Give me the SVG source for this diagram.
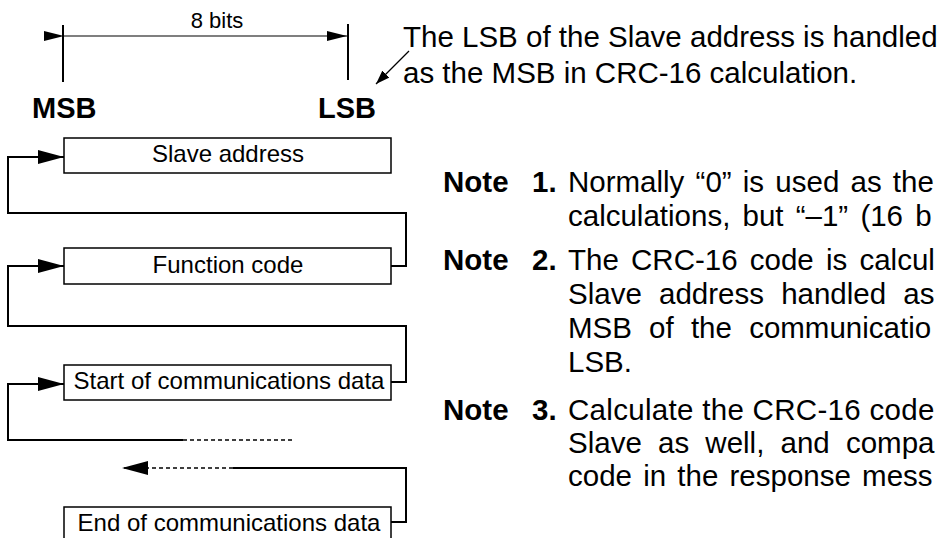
<svg xmlns="http://www.w3.org/2000/svg" width="940" height="538" viewBox="0 0 940 538">
<style>
.t{font-family:"Liberation Sans",Arial,sans-serif;fill:#000}
.box{fill:#fff;stroke:#000;stroke-width:1.5}
.ln{fill:none;stroke:#000;stroke-width:2}
.dash{fill:none;stroke:#000;stroke-width:1.5;stroke-dasharray:4 3}
.bt{font-size:24px;text-anchor:middle}
.nt{font-size:29.5px}
.b{font-weight:bold}
</style>
<defs>
<marker id="ah" viewBox="0 0 26 14" refX="26" refY="7" markerWidth="26" markerHeight="14" markerUnits="userSpaceOnUse" orient="auto">
<path d="M0,0 L26,7 L0,14 Z" fill="#000"/>
</marker>
<marker id="dh" viewBox="0 0 20 10" refX="20" refY="5" markerWidth="20" markerHeight="10" markerUnits="userSpaceOnUse" orient="auto">
<path d="M0,0 L20,5 L0,10 Z" fill="#000"/>
</marker>
<marker id="sh" viewBox="0 0 14 10" refX="14" refY="5" markerWidth="14" markerHeight="10" markerUnits="userSpaceOnUse" orient="auto">
<path d="M0,0 L14,5 L0,10 Z" fill="#000"/>
</marker>
</defs>

<g id="dimension">
<line x1="63" y1="25" x2="63" y2="82" class="ln" stroke-width="1.5"/>
<line x1="348" y1="24" x2="348" y2="80" class="ln" stroke-width="1.5"/>
<line x1="64" y1="36" x2="347" y2="36" stroke="#000" stroke-width="1.2" marker-start="url(#dh)" marker-end="url(#dh)" style="fill:none"/>
<text x="217" y="28" class="t" font-size="22" text-anchor="middle">8 bits</text>
<text x="32" y="118" class="t b" font-size="29">MSB</text>
<text x="318" y="118" class="t b" font-size="29">LSB</text>
</g>

<g id="lsb-note">
<line x1="409" y1="51" x2="376" y2="84" stroke="#000" stroke-width="1.2" marker-end="url(#sh)"/>
<text x="403" y="47" class="t nt">The LSB of the Slave address is handled</text>
<text x="403" y="83" class="t nt">as the MSB in CRC-16 calculation.</text>
</g>

<g id="slave-address">
<rect x="64" y="138" width="327" height="35" class="box"/>
<text x="228" y="162" class="t bt">Slave address</text>
</g>
<g id="function-code">
<rect x="64" y="248" width="327" height="36" class="box"/>
<text x="228" y="273" class="t bt">Function code</text>
</g>
<g id="start-data">
<rect x="64" y="365" width="327" height="35" class="box"/>
<text x="229" y="389" class="t bt">Start of communications data</text>
</g>
<g id="end-data">
<rect x="64" y="507" width="327" height="35" class="box"/>
<text x="229" y="531" class="t bt">End of communications data</text>
</g>

<g id="connectors">
<path d="M391,266 H406 V213 H8 V157 H64" class="ln" marker-end="url(#ah)"/>
<path d="M391,382 H406 V326 H8 V266 H64" class="ln" marker-end="url(#ah)"/>
<path d="M183,440 H8 V384 H64" class="ln" marker-end="url(#ah)"/>
<path d="M183,440 H293" class="dash"/>
<path d="M391,522 H406 V468 H233" class="ln"/>
<path d="M233,468 H122" class="dash" marker-end="url(#ah)"/>
</g>

<g id="notes">
<text x="443" y="192" class="t nt"><tspan class="b">Note</tspan><tspan x="532" class="b">1.</tspan><tspan x="568" word-spacing="3">Normally “0” is used as the</tspan></text>
<text x="568" y="226" class="t nt" word-spacing="4">calculations, but “–1” (16 b</text>
<text x="443" y="270" class="t nt"><tspan class="b">Note</tspan><tspan x="532" class="b">2.</tspan><tspan x="568" word-spacing="4">The CRC-16 code is calcul</tspan></text>
<text x="568" y="304" class="t nt" word-spacing="9">Slave address handled as</text>
<text x="568" y="338" class="t nt" word-spacing="9">MSB of the communicatio</text>
<text x="568" y="372" class="t nt">LSB.</text>
<text x="443" y="420" class="t nt"><tspan class="b">Note</tspan><tspan x="532" class="b">3.</tspan><tspan x="568" letter-spacing="0.3">Calculate the CRC-16 code</tspan></text>
<text x="568" y="453" class="t nt" word-spacing="8">Slave as well, and compa</text>
<text x="568" y="486" class="t nt" word-spacing="3">code in the response mess</text>
</g>
</svg>
